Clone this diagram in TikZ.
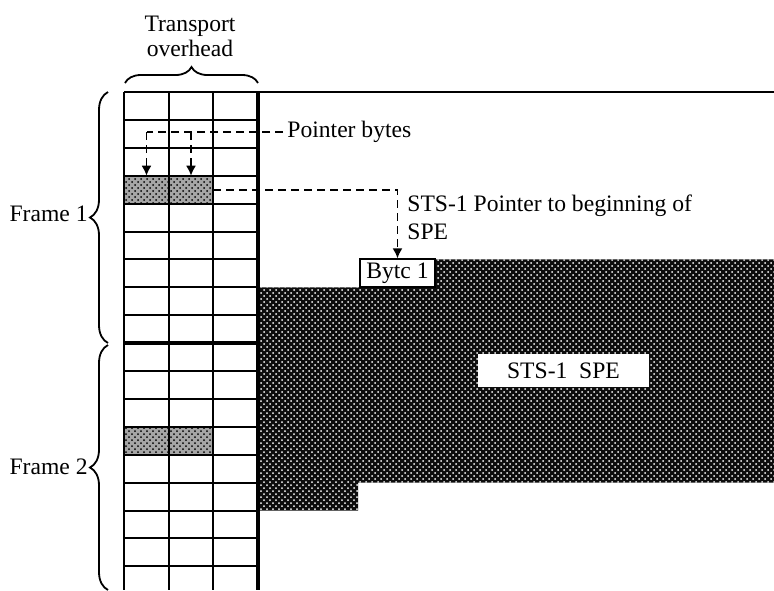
\documentclass[tikz,border=0pt]{standalone}
\usepackage{fontspec}
\setmainfont{Liberation Serif}
\usetikzlibrary{patterns,decorations.pathreplacing,arrows.meta}

\begin{document}
\begin{tikzpicture}[
  x=0.5pt, y=-0.5pt,
  font=\fontsize{11.8}{14}\selectfont,
  % thin rule of the overhead columns
  gridrule/.style = {line width=1pt},
  % heavy rule (frame boundary, SPE edge)
  heavy/.style    = {line width=1.7pt},
  % pointer byte cell (H1/H2)
  ptr/.style      = {minimum width=22.25pt, minimum height=13.95pt,
                     inner sep=0, outer sep=0, fill=gray!70,
                     postaction={pattern=crosshatch dots, pattern color=black}},
  % synchronous payload envelope
  spe/.style      = {fill=black!95,
                     postaction={pattern=crosshatch dots, pattern color=white}},
  % dashed leader lines
  lead/.style     = {dashed, dash pattern=on 4pt off 2.5pt, line width=0.9pt},
  arr/.style      = {-{Latex[length=5pt,width=5pt]}},
  brc/.style      = {decorate, decoration={brace, amplitude=#1}, line width=0.9pt},
  txt/.style      = {inner sep=0},
]
\useasboundingbox (0,0) rectangle (774,590);

% ═══════════════════════════════
%  SPE block (floats across the two frames)
% ═══════════════════
\path[spe] (258,287.3) -- (360,287.3) -- (360,259.4) -- (774,259.4)
  -- (774,482.6) -- (358,482.6) -- (358,510.5) -- (258,510.5) -- cycle;

% ═══════════════════════════════
%  Transport overhead columns, 9 rows per frame
% ═══════════════════
\node[ptr] (p1) at (146.5,189.65) {};
\node[ptr] (p2) at (191,189.65) {};
\node[ptr] (q1) at (146.5,440.75) {};
\node[ptr] (q2) at (191,440.75) {};

\foreach \k in {1,...,17}
  \draw[gridrule] (124,{92+27.9*\k}) -- (258,{92+27.9*\k});
\foreach \x in {124,169,213}
  \draw[gridrule] (\x,92) -- (\x,590);

\draw[gridrule] (124,92) -- (774,92);
\draw[heavy] (258,92) -- (258,590);
\draw[heavy] (124,343.1) -- (258,343.1);

% first byte of the SPE
\node[draw, fill=white, line width=1pt, inner sep=0,
      minimum width=37.5pt, minimum height=13.95pt] (byte1) at (397.5,273.35) {Bytc 1};

\node[fill=white, inner sep=0, minimum width=85.5pt, minimum height=16.5pt]
  (spelbl) at (563.5,370.5) {STS-1\enspace SPE};

% ───────────────────────────
%  Pointer annotations
% ────────────────
\node[anchor=west, inner sep=2pt] (pb) at (283,132) {Pointer bytes};
\coordinate (c1) at (p1.north |- pb.west);
\coordinate (c2) at (p2.north |- pb.west);
\draw[lead] (pb.west) -- (c1);
\draw[lead, arr] (c1) -- (p1.north);
\draw[lead, arr] (c2) -- (p2.north);

\coordinate (c3) at (byte1.north |- p2.east);
\draw[lead, arr] (p2.east) -- (c3) -- (byte1.north);
\node[txt, anchor=north west, align=left] (desc) at (407,194)
  {STS-1 Pointer to beginning of\\SPE};

% ───────────────────────────
%  Braces and labels
% ────────────────
\node[txt, align=center, font=\fontsize{11.8}{12.5}\selectfont] (toh) at (190,36)
  {Transport\\overhead};
\draw[brc=8pt] (125,83) -- (258,83);

\draw[brc=9pt] (108,343) -- (108,92);
\node[txt, anchor=east] (f1) at (88,214) {Frame 1};

\draw[brc=9pt] (108,590) -- (108,345);
\node[txt, anchor=east] (f2) at (88,467) {Frame 2};

\end{tikzpicture}
\end{document}
